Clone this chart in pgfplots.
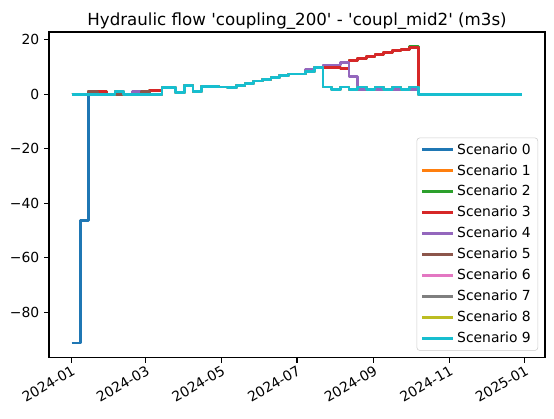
\documentclass[border=0pt]{standalone}
\usepackage{fontspec}
\setmainfont{DejaVu Sans}
\usepackage{pgfplots}
\usepackage{pgfplotstable}
\pgfplotsset{compat=1.18}

\definecolor{tabblue}{HTML}{1F77B4}
\definecolor{taborange}{HTML}{FF7F0E}
\definecolor{tabgreen}{HTML}{2CA02C}
\definecolor{tabred}{HTML}{D62728}
\definecolor{tabpurple}{HTML}{9467BD}
\definecolor{tabbrown}{HTML}{8C564B}
\definecolor{tabpink}{HTML}{E377C2}
\definecolor{tabgray}{HTML}{7F7F7F}
\definecolor{tabolive}{HTML}{BCBD22}
\definecolor{tabcyan}{HTML}{17BECF}

% days since 2024-01-01, one column per scenario
\pgfplotstableread{
d   s0    s1   s2   s3   s4   s5  s6  s7  s8  s9
0   -91.2 0    0    0    0    0   0   0   0   0
7   -46.4 0    0    0    0    0   0   0   0   0
14  0     1.2  1.2  1.2  0    1.2 0   0   0   0
21  0     1.2  1.2  1.2  0    0   0   0   0   0
28  0     0    0    0    0    0   0   0   0   0
35  1.2   1.2  1.2  1.2  1.2  0   1.2 1.2 1.2 1.2
42  0     0    0    0    0    0   0   0   0   0
49  0     0    0    0    1.2  0   0   0   0   0
56  0     0    0    0    0    1.2 0   0   0   0
63  0     1.3  1.3  1.3  0    0   0   0   0   0
73  2.5   2.5  2.5  2.5  2.5  2.5 2.5 2.5 2.5 2.5
84  0.6   0.6  0.6  0.6  0.6  0.6 0.6 0.6 0.6 0.6
91  3.3   3.3  3.3  3.3  3.3  3.3 3.3 3.3 3.3 3.3
98  1.2   1.2  1.2  1.2  1.2  1.2 1.2 1.2 1.2 1.2
105 2.9   2.9  2.9  2.9  2.9  2.9 2.9 2.9 2.9 2.9
119 2.7   2.7  2.7  2.7  2.7  2.7 2.7 2.7 2.7 2.7
126 2.4   2.4  2.4  2.4  2.4  2.4 2.4 2.4 2.4 2.4
133 3.3   3.3  3.3  3.3  3.3  3.3 3.3 3.3 3.3 3.3
140 4.1   4.1  4.1  4.1  4.1  4.1 4.1 4.1 4.1 4.1
147 4.9   4.9  4.9  4.9  4.9  4.9 4.9 4.9 4.9 4.9
154 5.5   5.5  5.5  5.5  5.5  5.5 5.5 5.5 5.5 5.5
161 6.3   6.3  6.3  6.3  6.3  6.3 6.3 6.3 6.3 6.3
168 6.9   6.9  6.9  6.9  6.9  6.9 6.9 6.9 6.9 6.9
175 7.5   7.5  7.5  7.5  7.5  7.5 7.5 7.5 7.5 7.5
189 8.4   8.4  8.4  8.4  9.0  8.4 8.4 8.4 8.4 8.4
196 10.0  10.0 10.0 10.0 10.0 10.0 10.0 10.0 10.0 10.0
203 2.7   9.8  9.8  9.8  10.8 2.7 2.7 2.7 2.7 2.7
210 1.7   9.8  9.8  9.8  10.8 1.7 1.7 1.7 1.7 1.7
217 2.7   9.6  9.6  9.6  11.8 2.7 2.7 2.7 2.7 2.7
224 1.8   12.4 12.4 12.4 6.6  1.8 1.8 1.8 1.8 1.8
231 2.7   13.2 13.2 13.2 1.9  2.7 2.7 2.7 2.7 2.7
238 1.8   14.0 14.0 14.0 1.9  1.8 1.8 1.8 1.8 1.8
245 2.7   14.7 14.7 14.7 1.9  2.7 2.7 2.7 2.7 2.7
252 1.8   15.4 15.4 15.4 1.9  1.8 1.8 1.8 1.8 1.8
259 2.7   16.0 16.0 16.0 1.9  2.7 2.7 2.7 2.7 2.7
266 1.8   16.6 16.6 16.6 1.9  1.8 1.8 1.8 1.8 1.8
273 2.7   17.2 17.6 17.2 1.9  2.7 2.7 2.7 2.7 2.7
280 0     0    0    0    0    0   0   0   0   0
364 0     0    0    0    0    0   0   0   0   0
}\flow

\begin{document}
\begin{tikzpicture}
\path[use as bounding box] (-35.28pt,-44.14pt) rectangle (363.6pt,257.54pt);
\begin{axis}[
    at={(0,0)}, anchor=south west,
    scale only axis,
    width=357.12pt, height=234.5pt,
    xmin=-18.2, xmax=382.2,
    ymin=-96.6, ymax=22.9,
    xtick={0,60,121,182,244,305,366},
    xticklabels={2024-01,2024-03,2024-05,2024-07,2024-09,2024-11,2025-01},
    ytick={-80,-60,-40,-20,0,20},
    yticklabels={−80,−60,−40,−20,0,20},
    tick pos=left,
    tick align=outside,
    major tick length=3.5pt,
    tick style={black, line width=0.8pt},
    axis line style={line width=0.8pt},
    tick label style={font=\fontsize{10}{12}\selectfont},
    xticklabel style={rotate=30, anchor=north east, inner sep=1pt},
    title={Hydraulic flow \textquotesingle coupling\_200\textquotesingle{} - \textquotesingle coupl\_mid2\textquotesingle{} (m3s)},
    title style={font=\fontsize{12}{14}\selectfont, yshift=-7.5pt},
    legend cell align=left,
    legend image code/.code={\draw[#1, line width=2pt] (0pt,0pt) -- (22pt,0pt);},
    legend style={
        at={(0.986,0.0215)}, anchor=south east,
        draw=black!20, fill=white, fill opacity=0.8, text opacity=1,
        rounded corners=2pt,
        font=\fontsize{10}{12}\selectfont,
        row sep=2pt,
    },
    sc/.style={line width=2pt, const plot, mark=none, line join=round},
]
\addplot[sc, tabblue] table[x=d, y=s0] {\flow};
\addlegendentry{Scenario 0}
\addplot[sc, taborange] table[x=d, y=s1] {\flow};
\addlegendentry{Scenario 1}
\addplot[sc, tabgreen] table[x=d, y=s2] {\flow};
\addlegendentry{Scenario 2}
\addplot[sc, tabred] table[x=d, y=s3] {\flow};
\addlegendentry{Scenario 3}
\addplot[sc, tabpurple] table[x=d, y=s4] {\flow};
\addlegendentry{Scenario 4}
\addplot[sc, tabbrown] table[x=d, y=s5] {\flow};
\addlegendentry{Scenario 5}
\addplot[sc, tabpink] table[x=d, y=s6] {\flow};
\addlegendentry{Scenario 6}
\addplot[sc, tabgray] table[x=d, y=s7] {\flow};
\addlegendentry{Scenario 7}
\addplot[sc, tabolive] table[x=d, y=s8] {\flow};
\addlegendentry{Scenario 8}
\addplot[sc, tabcyan] table[x=d, y=s9] {\flow};
\addlegendentry{Scenario 9}
\end{axis}
\end{tikzpicture}
\end{document}
